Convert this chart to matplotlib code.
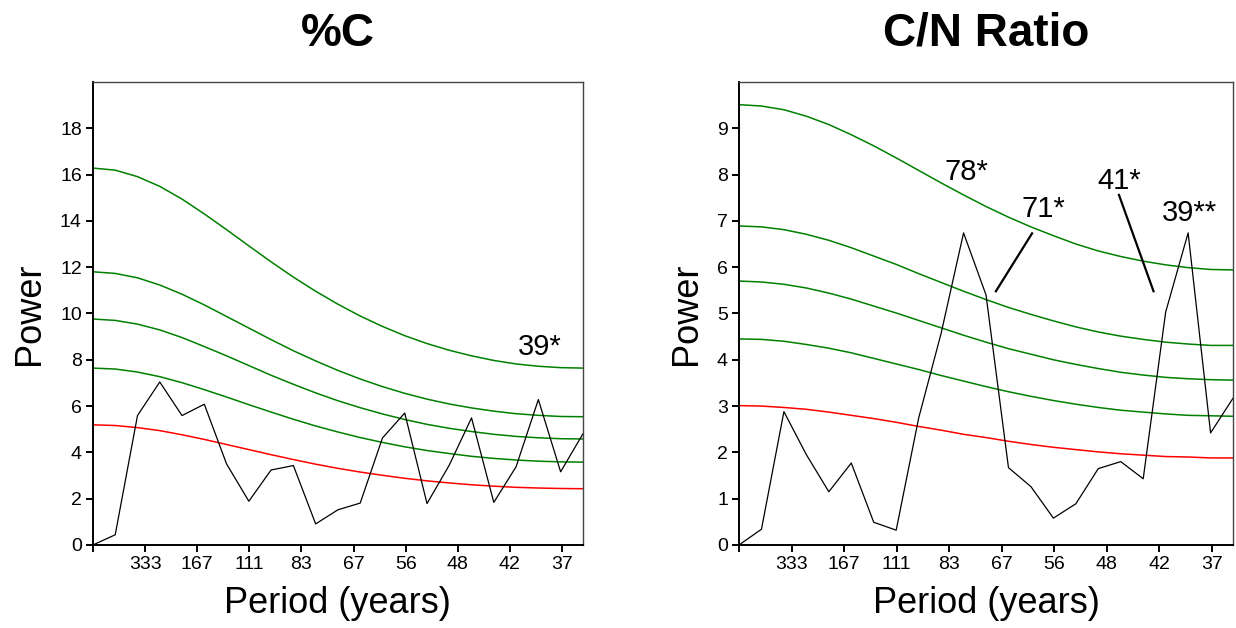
import matplotlib
matplotlib.use("Agg")
import matplotlib.pyplot as plt
import numpy as np

plt.rcParams['font.family'] = ['Liberation Sans', 'DejaVu Sans']

# frequency axis (cycles per year), 23 spectral estimates up to Nyquist
nyquist = 0.0282
freq = np.linspace(0, nyquist, 23)

tick_freqs = [0, 0.003, 0.006, 0.009, 0.012, 0.015, 0.018, 0.021, 0.024, 0.027]
tick_labels = ['', '333', '167', '111', '83', '67', '56', '48', '42', '37']

# %C spectrum
c_power = [0, 0.44, 5.59, 7.04, 5.59, 6.08, 3.50, 1.89, 3.24, 3.43, 0.91, 1.52,
           1.81, 4.62, 5.70, 1.79, 3.45, 5.49, 1.84, 3.38, 6.28, 3.16, 4.80]
c_red = [5.19, 5.16, 5.07, 4.94, 4.76, 4.56, 4.34, 4.12, 3.90, 3.69, 3.49, 3.31,
         3.15, 3.01, 2.88, 2.77, 2.68, 2.60, 2.54, 2.49, 2.46, 2.44, 2.43]
c_green = [
    [7.64, 7.60, 7.47, 7.27, 7.01, 6.71, 6.39, 6.06, 5.74, 5.43, 5.14, 4.88,
     4.64, 4.43, 4.24, 4.08, 3.95, 3.83, 3.74, 3.67, 3.62, 3.59, 3.58],
    [9.76, 9.70, 9.54, 9.29, 8.96, 8.57, 8.17, 7.75, 7.33, 6.94, 6.57, 6.23,
     5.93, 5.66, 5.42, 5.21, 5.04, 4.90, 4.78, 4.69, 4.63, 4.59, 4.58],
    [11.80, 11.73, 11.54, 11.23, 10.83, 10.37, 9.87, 9.37, 8.87, 8.39, 7.95, 7.54,
     7.17, 6.84, 6.55, 6.30, 6.09, 5.92, 5.78, 5.67, 5.60, 5.55, 5.54],
    [16.28, 16.19, 15.91, 15.49, 14.94, 14.30, 13.62, 12.92, 12.23, 11.57, 10.96, 10.40,
     9.89, 9.44, 9.04, 8.70, 8.41, 8.17, 7.97, 7.82, 7.72, 7.66, 7.64],
]

# C/N ratio spectrum
cn_power = [0, 0.34, 2.88, 1.95, 1.15, 1.77, 0.49, 0.32, 2.74, 4.57, 6.74, 5.40,
            1.67, 1.26, 0.58, 0.89, 1.65, 1.80, 1.43, 5.03, 6.74, 2.42, 3.17]
cn_red = [3.01, 3.00, 2.97, 2.93, 2.87, 2.80, 2.73, 2.65, 2.56, 2.48, 2.39, 2.32,
          2.24, 2.17, 2.11, 2.06, 2.01, 1.97, 1.94, 1.91, 1.90, 1.88, 1.88]
cn_green = [
    [4.45, 4.44, 4.40, 4.33, 4.25, 4.15, 4.03, 3.91, 3.79, 3.66, 3.54, 3.42,
     3.31, 3.21, 3.12, 3.04, 2.97, 2.91, 2.87, 2.83, 2.80, 2.79, 2.78],
    [5.70, 5.68, 5.63, 5.55, 5.44, 5.31, 5.16, 5.01, 4.85, 4.69, 4.53, 4.38,
     4.24, 4.12, 4.00, 3.90, 3.81, 3.73, 3.67, 3.62, 3.59, 3.57, 3.56],
    [6.89, 6.87, 6.81, 6.71, 6.58, 6.42, 6.24, 6.06, 5.86, 5.67, 5.48, 5.30,
     5.13, 4.98, 4.84, 4.71, 4.60, 4.51, 4.44, 4.38, 4.34, 4.31, 4.31],
    [9.51, 9.48, 9.40, 9.26, 9.08, 8.86, 8.62, 8.36, 8.09, 7.82, 7.56, 7.31,
     7.08, 6.87, 6.68, 6.50, 6.35, 6.23, 6.13, 6.05, 5.99, 5.95, 5.94],
]


def draw_panel(ax, title, power, red, greens, ymax, ystep):
    for g in greens:
        ax.plot(freq, g, color='#008000', lw=1.1)
    ax.plot(freq, red, color='#ff0000', lw=1.1)
    ax.plot(freq, power, color='black', lw=0.9)
    ax.set_xlim(0, nyquist)
    ax.set_ylim(0, ymax)
    ax.set_xticks(tick_freqs)
    ax.set_xticklabels(tick_labels)
    ax.set_yticks(np.arange(0, ymax, ystep))
    ax.tick_params(direction='out', length=5, width=1.4, labelsize=14, pad=3)
    for side in ['left', 'bottom']:
        ax.spines[side].set_linewidth(1.4)
    for side in ['top', 'right']:
        ax.spines[side].set_linewidth(1.0)
        ax.spines[side].set_color('#444444')
    ax.set_xlabel('Period (years)', fontsize=26, labelpad=9)
    ax.set_ylabel('Power', fontsize=26, labelpad=9)
    ax.set_title(title, fontsize=33, fontweight='bold', pad=26)


fig = plt.figure(figsize=(12.36, 6.28), dpi=100)
ax1 = fig.add_axes([0.0752, 0.1322, 0.3964, 0.7373])
ax2 = fig.add_axes([0.5979, 0.1322, 0.3997, 0.7373])

draw_panel(ax1, '%C', c_power, c_red, c_green, 20, 2)
draw_panel(ax2, 'C/N Ratio', cn_power, cn_red, cn_green, 10, 1)

k = nyquist / 22
ax1.text(20.05 * k, 8.20, '39*', fontsize=21, ha='center', va='baseline')

ax2.text(10.15 * k, 7.88, '78*', fontsize=21, ha='center', va='baseline')
ax2.text(13.57 * k, 7.08, '71*', fontsize=21, ha='center', va='baseline')
ax2.text(16.93 * k, 7.69, '41*', fontsize=21, ha='center', va='baseline')
ax2.text(20.07 * k, 6.99, '39**', fontsize=21, ha='center', va='baseline')
ax2.plot([13.05 * k, 11.44 * k], [6.73, 5.48], color='black', lw=1.6)
ax2.plot([16.92 * k, 18.46 * k], [7.56, 5.48], color='black', lw=1.6)

fig.savefig('out.png', dpi=100)
